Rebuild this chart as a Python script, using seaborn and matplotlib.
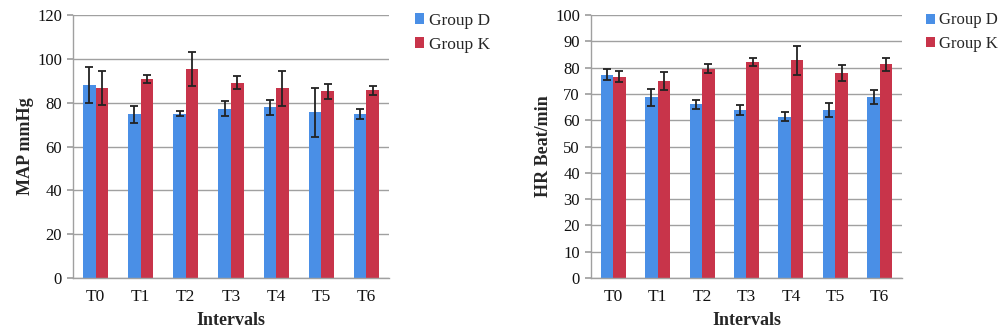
import matplotlib
matplotlib.use("Agg")
import matplotlib.pyplot as plt
import seaborn as sns
import pandas as pd
import numpy as np

intervals = ["T0", "T1", "T2", "T3", "T4", "T5", "T6"]
groups = ["Group D", "Group K"]

map_d = [88.1, 74.7, 75.0, 77.2, 77.8, 75.6, 75.0]
map_d_sd = [8.4, 4.0, 1.2, 3.5, 3.4, 11.3, 2.3]
map_k = [86.7, 90.8, 95.4, 89.2, 86.6, 85.2, 85.7]
map_k_sd = [7.7, 2.0, 7.8, 3.0, 8.0, 3.3, 2.0]

hr_d = [77.3, 68.7, 66.0, 63.8, 61.4, 64.0, 68.8]
hr_d_sd = [2.0, 3.2, 1.7, 1.8, 1.6, 2.6, 2.5]
hr_k = [76.6, 75.0, 79.6, 82.1, 82.7, 77.9, 81.2]
hr_k_sd = [2.2, 3.4, 1.6, 1.6, 5.6, 3.0, 2.4]

colors = ["#4A8FE6", "#C8344A"]

sns.set_theme(style="white")
plt.rcParams["font.family"] = ["Liberation Serif", "DejaVu Serif"]

fig = plt.figure(figsize=(10, 3.33), dpi=100)
ax1 = fig.add_axes([0.073, 0.165, 0.316, 0.79])
ax2 = fig.add_axes([0.591, 0.165, 0.311, 0.79])


def draw(ax, d, dsd, k, ksd, ylabel, ymax, ystep, legend_x, ylabelpad, legsize):
    df = pd.DataFrame({
        "Interval": intervals * 2,
        "Group": [groups[0]] * len(intervals) + [groups[1]] * len(intervals),
        "Value": d + k,
        "SD": dsd + ksd,
    })
    sns.barplot(data=df, x="Interval", y="Value", hue="Group", order=intervals,
                hue_order=groups, palette=colors, width=0.56, errorbar=None,
                saturation=1, ax=ax, legend=True, edgecolor="none", linewidth=0)
    bars = [p for p in ax.patches if p.get_height() > 0]
    bars_sorted = sorted(bars, key=lambda p: p.get_x())
    vals = []
    for i in range(len(intervals)):
        vals.append((d[i], dsd[i]))
        vals.append((k[i], ksd[i]))
    xs = [p.get_x() + p.get_width() / 2 for p in bars_sorted]
    ax.errorbar(xs, [v for v, s in vals], yerr=[s for v, s in vals], fmt="none",
                ecolor="#222222", elinewidth=1.3, capsize=3, capthick=1.3, zorder=5)
    ax.set_ylim(0, ymax)
    ax.set_xlim(-0.5, len(intervals) - 0.5)
    ax.set_yticks(np.arange(0, ymax + 1, ystep))
    ax.yaxis.grid(True, color="#a0a0a0", linewidth=1.0)
    ax.set_axisbelow(True)
    for s in ["top", "right"]:
        ax.spines[s].set_visible(False)
    for s in ["left", "bottom"]:
        ax.spines[s].set_color("#a0a0a0")
        ax.spines[s].set_linewidth(1.0)
    ax.tick_params(axis="x", which="major", length=0, labelsize=12.5, pad=8, labelcolor="#111111")
    ax.set_xticks(np.arange(-0.5, len(intervals), 1.0), minor=True)
    ax.tick_params(axis="x", which="minor", length=4, color="#a0a0a0", direction="out")
    ax.tick_params(axis="y", length=4, color="#a0a0a0", labelsize=12, left=True,
                   labelcolor="#111111", pad=4)
    ax.set_xlabel("Intervals", fontsize=13, fontweight="bold", labelpad=5)
    ax.set_ylabel(ylabel, fontsize=13, fontweight="bold", labelpad=ylabelpad)
    ax.legend(loc="upper left", bbox_to_anchor=(legend_x, 1.035), frameon=False,
              fontsize=legsize, handlelength=0.55, handleheight=0.55, handletextpad=0.25,
              labelspacing=0.45, borderaxespad=0)


draw(ax1, map_d, map_d_sd, map_k, map_k_sd, "MAP mmHg", 120, 20, 1.06, 2, 12.5)
draw(ax2, hr_d, hr_d_sd, hr_k, hr_k_sd, "HR Beat/min", 100, 10, 1.055, 2, 12)

fig.savefig("out.png", dpi=100)
